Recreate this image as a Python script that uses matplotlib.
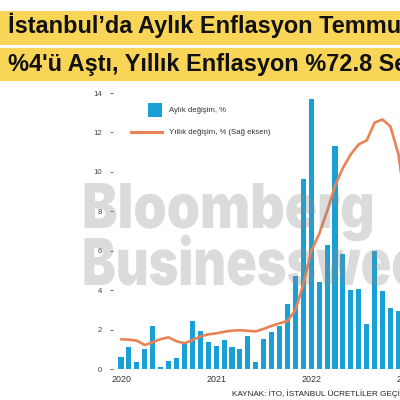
import matplotlib
matplotlib.use('agg')
import matplotlib.pyplot as plt
from matplotlib.patches import Rectangle, PathPatch
from matplotlib.lines import Line2D
from matplotlib.textpath import TextPath
from matplotlib.font_manager import FontProperties, fontManager
from matplotlib.transforms import Affine2D
import numpy as np

# monthly change (left axis), Jan 2020 .. Dec 2022
monthly = [0.6, 1.15, 0.37, 1.05, 2.18, 0.1, 0.44, 0.59, 1.32, 2.43, 1.96, 1.38,
           1.16, 1.47, 1.15, 1.02, 1.68, 0.36, 1.54, 1.87, 2.21, 3.30, 4.71, 9.62,
           13.69, 4.44, 6.29, 11.3, 5.82, 4.01, 4.05, 2.30, 6.0, 3.96, 3.09, 2.94]
# yearly change drawn in left-axis units (right axis is cut off), Jan 2020 .. Jan 2023
yearly = [1.52, 1.50, 1.45, 1.23, 1.37, 1.53, 1.62, 1.42, 1.32, 1.48, 1.66, 1.77,
          1.82, 1.90, 1.96, 1.98, 1.95, 1.92, 2.05, 2.20, 2.33, 2.45, 3.0, 4.3,
          6.0, 6.85, 8.0, 9.3, 10.2, 10.9, 11.4, 11.6, 12.5, 12.66, 12.3, 10.9, 8.0]
year_labels = ['2020', '2021', '2022', '2023']
y_ticks = [0, 2, 4, 6, 8, 10, 12, 14]

blue = '#1BA0D5'
orange = '#EA8255'
yellow = '#F8D457'
font = 'Liberation Sans'

fig = plt.figure(figsize=(4, 4), dpi=100)

# yellow title bands
fig.add_artist(Rectangle((0, 1 - 45/400), 1, 34/400, transform=fig.transFigure,
                         color=yellow, lw=0))
fig.add_artist(Rectangle((0, 1 - 81/400), 1, 33/400, transform=fig.transFigure,
                         color=yellow, lw=0))
fig.text(8/400, 1 - 33/400, 'İstanbul’da Aylık Enflasyon Temmuz’da', fontsize=16.9,
         fontweight='bold', family=font, va='baseline', color='#111111')
fig.text(8/400, 1 - 71/400, "%4'ü Aştı, Yıllık Enflasyon %72.8 Seviyesinde", fontsize=16.9,
         fontweight='bold', family=font, va='baseline', color='#111111')

# axes runs past the right edge, like the cropped original
x0 = -1.39
x1 = 44
step = 7.914
left_px = 110
right_px = 121.5 + step * x1
ymax = 14.2
ax = fig.add_axes([left_px/400, 1 - 369.3/400, (right_px - left_px)/400,
                   (369.3 - 93)/400 * ymax / 14])

months = np.arange(len(monthly))
ax.bar(months, monthly, width=0.64, color=blue, zorder=2)
ax.plot(np.arange(len(yearly)), yearly, color=orange, lw=1.9, zorder=3,
        solid_capstyle='round', solid_joinstyle='round')
ax.axhline(0, color='#b5b5b5', lw=0.8, zorder=1)

ax.set_xlim(x0, x1)
ax.set_ylim(0, ymax)
for s in ax.spines.values():
    s.set_visible(False)
ax.set_yticks(y_ticks)
ax.set_yticklabels([str(t) for t in y_ticks], family=font, fontsize=5.6, color='#444444')
ax.tick_params(axis='y', direction='in', length=2.5, width=0.6, color='#555555', pad=5.5)
ax.set_xticks(np.arange(len(year_labels)) * 12)
ax.set_xticklabels(year_labels, family=font, fontsize=6.4, color='#333333')
ax.tick_params(axis='x', length=0, pad=4)

# legend
fig.add_artist(Rectangle((148/400, 1 - 117/400), 14/400, 14/400, transform=fig.transFigure,
                         color=blue, lw=0))
fig.add_artist(Line2D([131/400, 162/400], [1 - 132/400, 1 - 132/400], transform=fig.transFigure,
                      color=orange, lw=2.2))
fig.text(169/400, 1 - 110/400, 'Aylık değişim, %', family=font, fontsize=5.6,
         color='#333333', va='center')
fig.text(169/400, 1 - 132/400, 'Yıllık değişim, % (Sağ eksen)', family=font, fontsize=5.6,
         color='#333333', va='center')

# source
fig.text(232/400, 1 - 394/400, 'KAYNAK: İTO, İSTANBUL ÜCRETLİLER GEÇİNME İNDEKSİ',
         family=font, fontsize=5.9, color='#222222', va='center')

# watermark, in the heaviest sans installed
wm_font = FontProperties(family=font, weight='bold')
heavy = [f for f in fontManager.ttflist
         if f.name in ('Roboto', 'Lato', 'Open Sans', 'Inter', 'Noto Sans')
         and isinstance(f.weight, int) and f.weight >= 800 and f.style == 'normal']
if heavy:
    heavy.sort(key=lambda f: -f.weight)
    wm_font = FontProperties(fname=heavy[0].fname)

cap = TextPath((0, 0), 'B', size=1, prop=wm_font).get_extents().height
# word, part used for width, target width px, cap height px, left px, baseline px
for word, part, width, caph, xb, yb in [('Bloomberg', 'Bloomberg', 290, 45, 82, 228),
                                       ('Businessweek', 'Business', 233, 47, 82, 285)]:
    tp = TextPath((0, 0), word, size=1, prop=wm_font)
    ext = TextPath((0, 0), part, size=1, prop=wm_font).get_extents()
    sx = width / ext.x1
    sy = caph / cap
    tr = Affine2D().scale(sx/100, sy/100).translate(xb/100, (400 - yb)/100) + fig.dpi_scale_trans
    fig.add_artist(PathPatch(tp, transform=tr, facecolor='#8a8a8a', alpha=0.3, lw=0, zorder=5))

plt.savefig('out.png', dpi=100)
